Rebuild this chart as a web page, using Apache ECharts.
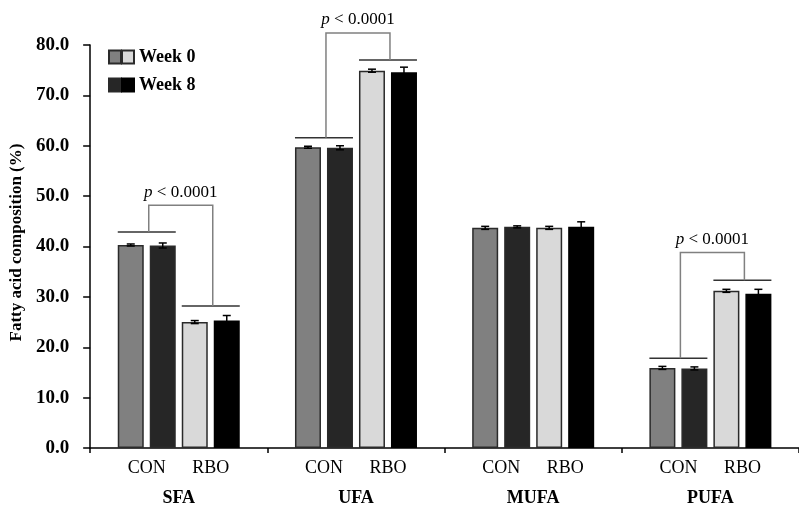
<!DOCTYPE html>
<html>
<head>
    <meta charset="utf-8">
    <title>Fatty acid composition</title>
    <script src="https://cdn.jsdelivr.net/npm/echarts@6/dist/echarts.min.js"></script>
    <style>
        html, body { margin: 0; padding: 0; background: #fff; }
        #chart1 { width: 799px; height: 508px; }
    </style>
</head>
<body>
<div id="chart1"></div>
<script>
    // 数据
    var categories = ['SFA', 'UFA', 'MUFA', 'PUFA'];
    var groupLabels = ['CON', 'RBO'];
    var seriesNames = ['CON Week 0', 'CON Week 8', 'RBO Week 0', 'RBO Week 8'];
    var conWeek0 = [40.3, 59.7, 43.7, 15.9];
    var conWeek8 = [40.2, 59.6, 43.9, 15.8];
    var rboWeek0 = [25.0, 74.9, 43.7, 31.2];
    var rboWeek8 = [25.3, 74.6, 43.9, 30.6];
    var conWeek0Err = [0.2, 0.2, 0.3, 0.3];
    var conWeek8Err = [0.5, 0.4, 0.2, 0.3];
    var rboWeek0Err = [0.3, 0.3, 0.3, 0.3];
    var rboWeek8Err = [1.0, 1.0, 1.0, 0.9];
    // [category, CON line, RBO line, connector top]
    var brackets = [[0, 42.9, 28.2, 48.2], [1, 61.6, 77.0, 82.4], [3, 17.8, 33.3, 38.8]];
    var pLabel = '{i|p} < 0.0001';

    var colors = ['#808080', '#262626', '#d9d9d9', '#000000'];
    var values = [conWeek0, conWeek8, rboWeek0, rboWeek8];
    var errors = [conWeek0Err, conWeek8Err, rboWeek0Err, rboWeek8Err];
    var BAR_W = 26, BAR_GAP = 6;
    var FONT = '"Liberation Serif", "Times New Roman", serif';

    function errorRender(k) {
        return function (params, api) {
            var v = api.value(1), e = api.value(2);
            var top = api.coord([api.value(0), v + e]);
            var bot = api.coord([api.value(0), v - e]);
            var x = top[0] + (k - 1.5) * (BAR_W + BAR_GAP);
            var st = {stroke: '#000', lineWidth: 1.5};
            return {
                type: 'group',
                children: [
                    {type: 'line', shape: {x1: x, y1: bot[1], x2: x, y2: top[1]}, style: st},
                    {type: 'line', shape: {x1: x - 4, y1: top[1], x2: x + 4, y2: top[1]}, style: st},
                    {type: 'line', shape: {x1: x - 4, y1: bot[1], x2: x + 4, y2: bot[1]}, style: st}
                ]
            };
        };
    }

    function bracketRender(params, api) {
        var i = api.value(0);
        var pc = api.coord([i, api.value(1)]);
        var pr = api.coord([i, api.value(2)]);
        var pt = api.coord([i, api.value(3)]);
        var step = BAR_W + BAR_GAP;
        var half = step / 2 + BAR_W / 2;
        var lx = pc[0] - step, rx = pc[0] + step;
        var dark = {stroke: '#333', lineWidth: 1.5};
        return {
            type: 'group',
            children: [
                {type: 'line', shape: {x1: lx - half, y1: pc[1], x2: lx + half, y2: pc[1]}, style: dark},
                {type: 'line', shape: {x1: rx - half, y1: pr[1], x2: rx + half, y2: pr[1]}, style: dark},
                {type: 'polyline', shape: {points: [[lx + 2, pc[1]], [lx + 2, pt[1]], [rx + 2, pt[1]], [rx + 2, pr[1]]]}, style: {stroke: '#808080', lineWidth: 1.5, fill: null}},
                {
                    type: 'text', x: (lx + rx) / 2 + 2, y: pt[1] - 13,
                    style: {
                        text: pLabel, fill: '#000', font: '17px ' + FONT,
                        align: 'center', verticalAlign: 'middle',
                        rich: {i: {fontStyle: 'italic', fontSize: 17, fontFamily: FONT}}
                    }
                }
            ]
        };
    }

    var series = [];
    values.forEach(function (arr, k) {
        series.push({
            name: seriesNames[k],
            type: 'bar',
            barWidth: BAR_W,
            barGap: (BAR_GAP / BAR_W * 100) + '%',
            itemStyle: {color: colors[k], borderColor: k === 3 ? '#000' : '#2a2a2a', borderWidth: 1.5},
            data: arr
        });
    });
    values.forEach(function (arr, k) {
        series.push({
            type: 'custom',
            clip: false,
            z: 5,
            renderItem: errorRender(k),
            data: arr.map(function (v, i) { return [i, v, errors[k][i]]; })
        });
    });
    series.push({
        type: 'custom',
        clip: false,
        z: 6,
        renderItem: bracketRender,
        data: brackets
    });

    var legendText = {fontSize: 18, fontWeight: 'bold', color: '#000', fontFamily: FONT};
    var myChart1 = echarts.init(document.getElementById('chart1'));
    myChart1.setOption({
        animation: false,
        backgroundColor: '#fff',
        textStyle: {fontFamily: FONT},
        grid: {left: 89, right: -2, top: 45, bottom: 60},
        legend: [{
            data: [seriesNames[0], seriesNames[1]],
            orient: 'vertical', left: 103, top: 43, icon: 'rect',
            itemWidth: 12, itemHeight: 13, itemGap: 10,
            formatter: function () { return ' '; },
            textStyle: legendText
        }, {
            data: [seriesNames[2], seriesNames[3]],
            orient: 'vertical', left: 116, top: 43, icon: 'rect',
            itemWidth: 12, itemHeight: 13, itemGap: 10,
            formatter: function (name) { return name.replace(groupLabels[1] + ' ', ''); },
            textStyle: legendText
        }],
        xAxis: [{
            type: 'category',
            data: categories,
            axisLine: {lineStyle: {color: '#000', width: 1.5}},
            axisTick: {show: true, length: 5, lineStyle: {color: '#000', width: 1.5}},
            axisLabel: {
                margin: 11,
                formatter: function () { return '{a|' + groupLabels[0] + '}{a|' + groupLabels[1] + '}'; },
                rich: {a: {width: 64, align: 'center', fontSize: 18, fontFamily: FONT, color: '#000'}}
            }
        }, {
            type: 'category',
            position: 'bottom',
            data: categories,
            axisLine: {show: false},
            axisTick: {show: false},
            axisLabel: {margin: 41, fontSize: 18, fontWeight: 'bold', color: '#000', fontFamily: FONT}
        }],
        yAxis: {
            type: 'value',
            min: 0, max: 80, interval: 10,
            name: 'Fatty acid composition (%)',
            nameLocation: 'middle',
            nameGap: 60,
            nameTextStyle: {fontSize: 17, fontWeight: 'bold', color: '#000', fontFamily: FONT, padding: [0, 0, 0, 8]},
            axisLine: {show: true, lineStyle: {color: '#000', width: 1.5}},
            axisTick: {show: true, length: 7, lineStyle: {color: '#000', width: 1.5}},
            splitLine: {show: false},
            axisLabel: {
                margin: 21, fontSize: 19, fontWeight: 'bold', color: '#000', fontFamily: FONT,
                formatter: function (v) { return v.toFixed(1); }
            }
        },
        series: series
    });
</script>
</body>
</html>
